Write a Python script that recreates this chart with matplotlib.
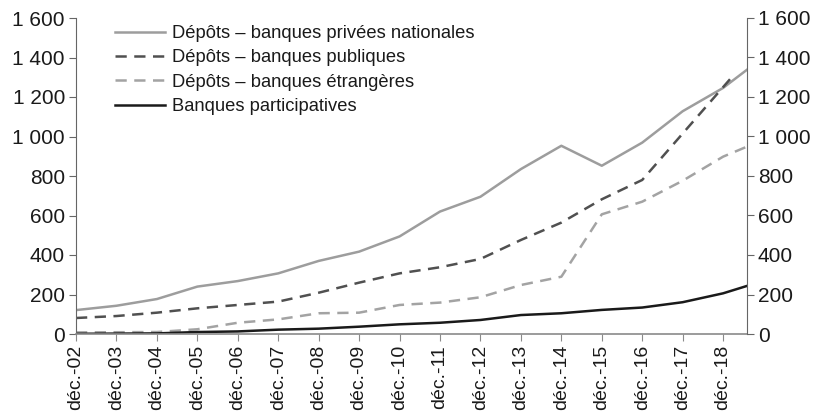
import matplotlib
matplotlib.use("Agg")
import matplotlib.pyplot as plt
from matplotlib.ticker import FuncFormatter

plt.rcParams['font.family'] = ['Liberation Sans', 'DejaVu Sans']

tick_labels = ['déc.-02', 'déc.-03', 'déc.-04', 'déc.-05', 'déc.-06', 'déc.-07',
               'déc.-08', 'déc.-09', 'déc.-10', 'déc.-11', 'déc.-12', 'déc.-13',
               'déc.-14', 'déc.-15', 'déc.-16', 'déc.-17', 'déc.-18']
# x positions in years since déc.-02 (last point = mid-2019)
x_main = list(range(17)) + [16.583]
x_pub = list(range(16)) + [16.17]

privees = [121, 143, 177, 240, 268, 307, 370, 417, 494, 620, 695, 835, 953, 852,
           969, 1128, 1246, 1337]
publiques = [81, 91, 108, 130, 147, 164, 209, 260, 307, 338, 380, 476, 564, 682,
             780, 1015, 1290]
etrangeres = [8, 9, 10, 24, 57, 74, 105, 108, 147, 159, 186, 248, 290, 606,
              670, 776, 898, 948]
participatives = [1, 2, 3, 10, 13, 22, 27, 37, 49, 57, 71, 96, 105, 122,
                  134, 161, 206, 243]

labels = ['Dépôts – banques privées nationales', 'Dépôts – banques publiques',
          'Dépôts – banques étrangères', 'Banques participatives']

fig = plt.figure(figsize=(8.28, 4.2), dpi=100)
ax = fig.add_axes([76/828, 1-334/420, (746.7-76)/828, (334-18)/420])

ax.plot(x_main, privees, color='#9d9d9d', lw=1.8, label=labels[0])
ax.plot(x_pub, publiques, color='#505050', lw=1.8, ls=(0, (4.5, 3)), label=labels[1])
ax.plot(x_main, etrangeres, color='#a3a3a3', lw=1.8, ls=(0, (4.5, 3)), label=labels[2])
ax.plot(x_main, participatives, color='#1a1a1a', lw=1.8, label=labels[3])

ax.set_xlim(0, 16.583)
ax.set_ylim(0, 1600)
yt = list(range(0, 1601, 200))
fmt = FuncFormatter(lambda v, p: f"{int(v):,}".replace(',', ' '))
ax.set_yticks(yt)
ax.yaxis.set_major_formatter(fmt)
ax.set_xticks(range(17))
ax.set_xticklabels(tick_labels, rotation=90)

spine_c = '#666666'
for s in ['top', 'right']:
    ax.spines[s].set_visible(False)
ax.spines['left'].set_color(spine_c)
ax.spines['bottom'].set_color('#8a8a8a')
ax.spines['bottom'].set_linewidth(1.2)
ax.tick_params(axis='y', direction='out', length=5, color=spine_c, labelsize=15,
               labelcolor='#1a1a1a', pad=3)
ax.tick_params(axis='x', direction='out', length=5, color='#8a8a8a', labelsize=14,
               labelcolor='#1a1a1a', pad=3)

ax2 = ax.twinx()
ax2.set_ylim(0, 1600)
ax2.set_yticks(yt)
ax2.yaxis.set_major_formatter(fmt)
for s in ['top', 'left', 'bottom']:
    ax2.spines[s].set_visible(False)
ax2.spines['right'].set_color(spine_c)
ax2.tick_params(axis='y', direction='out', length=5, color=spine_c, labelsize=15,
                labelcolor='#1a1a1a', pad=3)

leg = ax.legend(loc='upper left', bbox_to_anchor=(115/828, 1-25/420),
                bbox_transform=fig.transFigure, frameon=False, fontsize=13.2,
                handlelength=2.73, handletextpad=0.38, labelspacing=0.4,
                borderpad=0, borderaxespad=0)
for t in leg.get_texts():
    t.set_color('#1a1a1a')

fig.savefig('out.png', dpi=100)
